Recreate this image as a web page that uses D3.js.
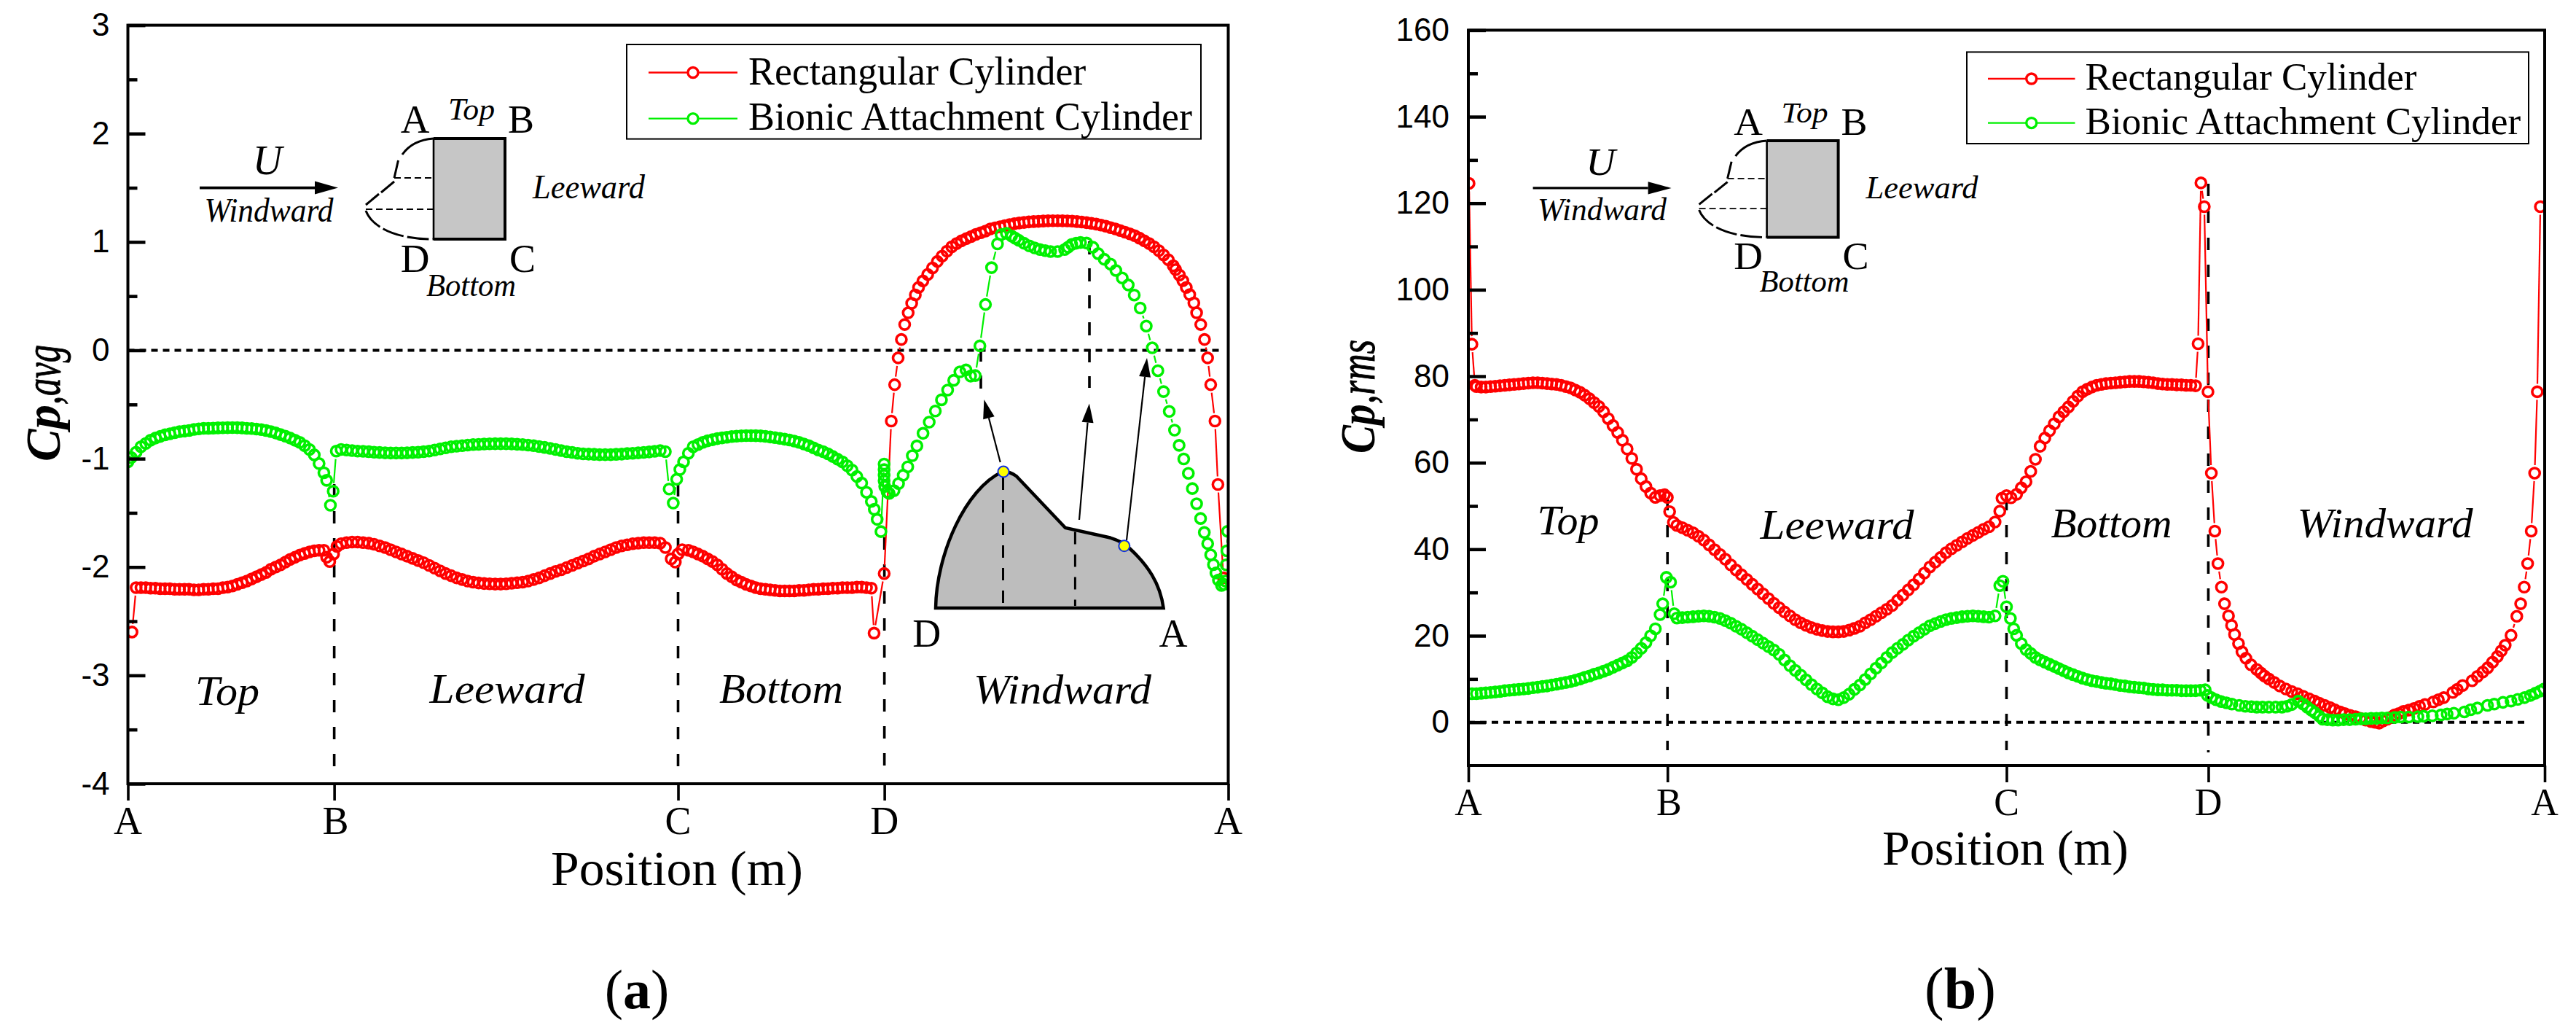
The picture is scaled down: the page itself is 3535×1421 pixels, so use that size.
<!DOCTYPE html>
<html><head><meta charset="utf-8">
<script src="https://cdnjs.cloudflare.com/ajax/libs/d3/7.8.5/d3.min.js"></script>
<style>html,body{margin:0;background:#fff}svg{display:block}text{fill:#000}</style>
</head><body>
<script>
// ---- shared sample positions along the perimeter (m)
const posTop=[.012,.019,.026,.033,.04,.047,.054,.061,.068,.075,
.082,.089,.096,.103,.11,.117,.124,.131,.138,.145,
.152,.159,.166,.173,.18,.187,.194,.201,.208,.215,
.222,.229,.236,.243,.25,.257,.264,.271,.278,.285];
const posLee=[.31,.318,.326,.334,.342,.35,.358,.366,.374,.382,
.39,.398,.406,.414,.422,.43,.438,.446,.454,.462,
.47,.478,.486,.494,.502,.51,.518,.526,.534,.542,
.55,.558,.566,.574,.582,.59,.598,.606,.614,.622,
.63,.638,.646,.654,.662,.67,.678,.686,.694,.702,
.71,.718,.726,.734,.742,.75,.758,.766,.774];
const posBot=[.815,.822,.829,.836,.843,.85,.857,.864,.871,.878,
.885,.892,.899,.906,.913,.92,.927,.934,.941,.948,
.955,.962,.969,.976,.983,.99,.997,1.004,1.011,1.018,
1.025,1.032,1.039,1.046,1.053,1.06,1.067,1.074,1.081];

// ---- (a) Cp,avg  Rectangular Cylinder
const rectAvgX=[.006,...posTop,.289,.2935,.299,.304,...posLee,.7816,.79,.796,.8,.806,...posBot,
1.085,1.0997,1.11,1.1149,1.12,1.1247,1.1295,1.1346,1.1397,1.145,1.1497,
1.156,1.163,1.17,1.177,1.184,1.191,1.198,1.205,1.212,1.219,
1.226,1.233,1.24,1.247,1.254,1.261,1.268,1.275,1.282,1.289,
1.296,1.303,1.31,1.317,1.324,1.331,1.338,1.345,1.352,1.359,
1.366,1.373,1.38,1.387,1.394,1.401,1.408,1.415,1.422,1.429,
1.436,1.443,1.45,1.457,1.464,1.471,1.478,1.485,1.492,1.499,
1.506,1.513,1.52,1.5235,1.529,1.534,1.539,1.544,1.55,1.554,
1.56,1.5655,1.57,1.5745,1.5807,1.585,1.593];
const rectAvgY=[-2.6,
-2.19,-2.19,-2.19,-2.195,-2.195,-2.2,-2.2,-2.2,-2.205,-2.205,
-2.205,-2.205,-2.21,-2.21,-2.205,-2.205,-2.2,-2.2,-2.19,-2.185,
-2.175,-2.16,-2.145,-2.13,-2.11,-2.09,-2.07,-2.05,-2.02,-2,
-1.98,-1.955,-1.93,-1.91,-1.89,-1.875,-1.86,-1.85,-1.845,-1.845,
-1.91,-1.95,-1.88,-1.81,
-1.785,-1.775,-1.77,-1.77,-1.775,-1.78,-1.79,-1.805,-1.82,-1.84,
-1.86,-1.88,-1.9,-1.92,-1.94,-1.96,-1.985,-2.01,-2.035,-2.06,
-2.08,-2.1,-2.115,-2.13,-2.14,-2.147,-2.152,-2.155,-2.157,-2.157,
-2.155,-2.15,-2.145,-2.14,-2.13,-2.115,-2.1,-2.08,-2.06,-2.04,
-2.025,-2.005,-1.985,-1.965,-1.945,-1.925,-1.9,-1.88,-1.86,-1.84,
-1.82,-1.805,-1.795,-1.785,-1.78,-1.775,-1.775,-1.775,-1.78,
-1.82,-1.925,-1.955,-1.88,-1.84,
-1.845,-1.86,-1.88,-1.9,-1.925,-1.95,-1.98,-2.02,-2.06,-2.09,
-2.12,-2.14,-2.16,-2.175,-2.19,-2.2,-2.205,-2.21,-2.215,-2.22,
-2.22,-2.22,-2.22,-2.215,-2.215,-2.21,-2.205,-2.205,-2.2,-2.2,
-2.195,-2.195,-2.19,-2.19,-2.19,-2.185,-2.185,-2.19,-2.195,
-2.61,-2.06,-.653,-.317,-.07,.1,.238,.346,.434,.511,.58,
.64,.7,.76,.82,.87,.915,.955,.985,1.01,1.03,
1.05,1.07,1.085,1.1,1.12,1.13,1.14,1.15,1.16,1.168,
1.175,1.18,1.185,1.188,1.19,1.193,1.195,1.196,1.196,1.195,
1.194,1.192,1.188,1.184,1.178,1.172,1.165,1.155,1.145,1.132,
1.12,1.105,1.09,1.075,1.058,1.035,1.01,.985,.955,.92,
.88,.835,.78,.745,.695,.642,.58,.514,.437,.346,
.238,.1,-.07,-.317,-.653,-1.238,-2.1];

// ---- (a) Cp,avg  Bionic Attachment Cylinder
const bionAvgX=[0,.005,...posTop,.289,.2945,.2985,.303,...posLee,.7815,.787,.793,.798,.8026,.808,...posBot,
1.0853,1.0895,1.095,1.0996,1.0996,1.0996,1.0996,1.1005,1.104,1.107,
1.114,1.1206,1.1273,1.134,1.1406,1.1473,1.1562,1.1652,1.1741,1.183,
1.192,1.2008,1.2098,1.2187,1.2254,1.2321,1.2389,1.247,1.2558,1.2645,
1.2697,1.2774,1.285,1.2902,1.2954,1.303,1.3108,1.3185,1.3262,1.3339,
1.3416,1.3519,1.3621,1.3672,1.3724,1.3788,1.3852,1.394,1.4032,1.4109,
1.4197,1.4289,1.4366,1.4459,1.4546,1.4633,1.472,1.4808,1.4895,1.4977,
1.5059,1.5142,1.5219,1.5286,1.5353,1.542,1.5478,1.554,1.5598,1.5652,
1.5701,1.5745,1.5785,1.5821,1.5857,1.5902,1.594,1.596,1.597,1.598,1.599];
const bionAvgY=[-1.03,-.99,
-.94,-.89,-.86,-.83,-.81,-.795,-.78,-.77,-.76,-.75,
-.745,-.74,-.73,-.725,-.72,-.72,-.718,-.716,-.715,-.714,
-.713,-.714,-.716,-.72,-.722,-.727,-.732,-.74,-.75,-.763,
-.778,-.792,-.81,-.83,-.85,-.88,-.915,-.965,-1.045,-1.13,
-1.2,-1.43,-1.3,-.93,
-.915,-.92,-.925,-.93,-.932,-.935,-.94,-.943,-.946,-.948,
-.948,-.948,-.946,-.943,-.94,-.935,-.93,-.92,-.91,-.9,
-.89,-.885,-.88,-.875,-.87,-.868,-.865,-.863,-.862,-.862,
-.862,-.864,-.867,-.87,-.875,-.88,-.888,-.896,-.905,-.915,
-.925,-.935,-.942,-.95,-.955,-.958,-.96,-.963,-.963,-.963,
-.96,-.958,-.953,-.95,-.946,-.942,-.938,-.932,-.925,
-.935,-1.28,-1.41,-1.19,-1.1,-1.03,
-.95,-.89,-.87,-.85,-.835,-.825,-.815,-.808,-.802,-.796,
-.792,-.789,-.787,-.787,-.788,-.79,-.794,-.8,-.806,-.813,
-.82,-.828,-.838,-.85,-.865,-.88,-.9,-.92,-.935,-.955,
-.98,-1.005,-1.03,-1.065,-1.105,-1.165,-1.225,-1.31,-1.395,
-1.467,-1.56,-1.673,-1.05,-1.101,-1.153,-1.204,-1.256,-1.307,-1.32,
-1.295,-1.23,-1.153,-1.075,-.972,-.882,-.766,-.663,-.56,-.457,
-.367,-.277,-.199,-.181,-.238,-.233,.041,.423,.763,.982,
1.067,1.08,1.054,1.035,1.015,.988,.964,.945,.93,.92,
.912,.912,.93,.952,.977,.988,.995,.99,.951,.892,
.84,.796,.737,.668,.603,.51,.39,.224,.023,-.188,
-.381,-.564,-.737,-.877,-1.003,-1.135,-1.276,-1.416,-1.552,-1.681,
-1.784,-1.887,-1.978,-2.055,-2.12,-2.17,-2.16,-2.13,-1.98,-1.85,-1.67];

// ---- (b) Cp,rms  Rectangular Cylinder
const rectRmsX=[.001,.0053,.0097,...posTop,.2915,.2958,.2992,.3048,...posLee,.783,.79,.7933,.8,.8067,...posBot,
1.0848,1.089,1.094,1.0995,1.1045,1.1097,1.1143,1.1195,1.1241,1.13,
1.1345,1.139,1.1449,1.15,1.1559,1.1633,1.172,1.178,1.1835,1.19,
1.198,1.206,1.2153,1.224,1.2326,1.241,1.25,1.258,1.265,1.273,
1.281,1.288,1.296,1.303,1.311,1.319,1.326,1.334,1.342,1.348,
1.354,1.36,1.366,1.372,1.377,1.383,1.39,1.398,1.4057,1.414,
1.422,1.4345,1.442,1.45,1.4634,1.47,1.478,1.4922,1.5,1.508,
1.5153,1.5225,1.5297,1.5355,1.5413,1.55,1.5586,1.5643,1.5696,1.5747,
1.58,1.5851,1.589,1.5936];
const rectRmsY=[124.6,87.4,77.9,
77.6,77.5,77.5,77.6,77.7,77.8,77.9,78,78.1,78.2,
78.3,78.4,78.5,78.5,78.4,78.3,78.2,78.1,77.9,77.6,
77.3,76.8,76.3,75.6,74.8,73.9,73,71.8,70.2,68.6,
67,65.2,63.2,61,58.5,56.3,54.5,53,52,52.4,
52.6,52,48.7,46.2,
45.5,45,44.4,43.8,43,42.1,41,39.9,38.8,37.7,
36.4,35.2,34.1,33,31.9,30.8,29.7,28.6,27.5,26.5,
25.5,24.6,23.7,23,22.4,21.9,21.5,21.2,21,20.9,
20.9,21,21.3,21.7,22.2,23,23.7,24.5,25.3,26.1,
27,28.2,29.4,30.6,31.8,33.1,34.5,35.9,37,38.1,
39.2,40.1,40.9,41.7,42.5,43.2,43.9,44.6,45.2,
46.3,48.8,51.8,52.4,51.9,
52.7,54.2,55.6,58,60.8,63.8,65.7,67.4,69,70.6,
71.8,72.9,74.2,75.4,76.4,77,77.5,77.9,78.1,78.3,
78.4,78.5,78.6,78.7,78.8,78.8,78.8,78.7,78.6,78.5,
78.3,78.2,78.1,78.1,78,78,77.9,77.9,77.8,
87.5,124.7,119.2,76.4,57.6,44.2,36.7,31.25,27.4,24.6,
22.4,20.3,18.2,16.3,14.8,13.3,12.2,11.4,10.7,10,
9.2,8.4,7.7,7.1,6.6,6,5.4,4.9,4.4,3.9,
3.4,2.9,2.4,2,1.6,1.3,.9,.5,.15,0,
-.2,.3,.7,1.2,1.7,2,2.5,2.8,3.2,3.7,
4.1,4.7,5.2,5.7,6.9,7.6,8.5,9.6,10.6,11.6,
12.6,13.9,15.2,16.5,17.8,20.1,24.5,27.4,31.25,36.7,
44.2,57.6,76.4,119.2];

// ---- (b) Cp,rms  Bionic Attachment Cylinder
const bionRmsX=[.0055,...posTop,.2889,.2944,.3006,.306,...posLee,.783,.79,.7947,.8,.8058,.8107,...posBot,
1.088,1.0953,1.0987,1.1045,1.1114,1.119,1.127,1.135,1.146,1.155,
1.164,1.172,1.1806,1.19,1.2,1.2095,1.217,1.224,1.2337,1.241,
1.247,1.253,1.2585,1.265,1.27,1.277,1.285,1.293,1.301,1.31,
1.319,1.327,1.334,1.342,1.35,1.358,1.366,1.377,1.386,1.398,
1.4115,1.42,1.433,1.446,1.455,1.465,1.4807,1.49,1.5,1.515,
1.525,1.538,1.55,1.56,1.57,1.5788,1.586,1.593,1.599];
const bionRmsY=[6.6,
6.6,6.7,6.8,6.9,7,7.1,7.3,7.4,7.5,7.6,
7.7,7.8,8,8.1,8.3,8.4,8.6,8.8,9,9.2,
9.4,9.7,10,10.4,10.7,11.1,11.4,11.8,12.2,12.7,
13.2,13.7,14.2,15,16,17.1,18.4,20,21.6,24.9,
27.4,33.5,32.4,25.1,
24.1,24.2,24.3,24.4,24.5,24.6,24.5,24.3,24,23.5,
22.9,22.2,21.5,20.7,19.9,19.1,18.3,17.5,16.7,15.7,
14.4,13.1,12,10.9,9.8,8.7,7.7,6.8,5.9,5.4,
5.2,5.7,6.5,7.6,8.6,9.9,11.2,12.5,13.7,15,
16.1,17.1,18,19,19.9,20.7,21.5,22.3,22.8,23.3,
23.7,24,24.2,24.4,24.5,24.6,24.5,24.4,24.3,
24.6,31.6,32.6,26.7,24,21.6,
20.1,18.2,16.8,15.9,15,14.4,13.9,13.4,12.9,12.4,
11.9,11.4,11,10.6,10.2,9.9,9.6,9.4,9.2,9,
8.9,8.7,8.5,8.4,8.2,8.1,8,7.9,7.7,7.6,
7.5,7.5,7.4,7.4,7.4,7.3,7.3,7.3,7.3,
7.4,7.5,6.2,5.7,5.2,4.8,4.5,4.2,3.9,3.7,
3.6,3.5,3.5,3.5,3.5,3.5,3.7,4.1,4.9,4.2,
3.5,2.8,2.2,1.4,.7,.6,.5,.5,.6,.6,
.7,.8,.8,.9,.9,1,1,1.1,1.2,1.2,
1.3,1.4,1.5,1.7,1.9,2.1,2.4,2.9,3.3,3.9,
4.2,4.6,4.9,5.3,5.7,6.2,6.7,7.2,7.7];

const seriesNames=["Rectangular Cylinder","Bionic Attachment Cylinder"];
const cornerLabels=["A","B","C","D","A"];
const cornersA=[0,.3,.8,1.1,1.6];
const cornersB=[0,.296,.8,1.1,1.6];
const ticksAvgMajor=[-4,-3,-2,-1,0,1,2,3];
const ticksAvgMinor=[-3.5,-2.5,-1.5,-.5,.5,1.5,2.5];
const ticksRmsMajor=[0,20,40,60,80,100,120,140,160];
const ticksRmsMinor=[10,30,50,70,90,110,130,150];

const SERIF="'Liberation Serif','Times New Roman',serif", SANS="'Liberation Sans',Arial,sans-serif";
const RED="#ff0000", GREEN="#00f000";
const svg=d3.select("body").append("svg").attr("width",3535).attr("height",1421);
svg.append("rect").attr("width",3535).attr("height",1421).attr("fill","#fff");

function txt(g,s,x,y,o={}){
  const t=g.append("text").attr("x",x).attr("y",y).text(s)
    .attr("font-family",o.family||SERIF).attr("font-size",o.size||54)
    .attr("text-anchor",o.anchor||"middle");
  if(o.italic)t.attr("font-style","italic");
  if(o.bold)t.attr("font-weight","bold");
  if(o.len)t.attr("textLength",o.len).attr("lengthAdjust","spacingAndGlyphs");
  if(o.rot)t.attr("transform",`rotate(-90 ${x} ${y})`);
  return t;
}
function ln(g,x1,y1,x2,y2,w,dash){
  const l=g.append("line").attr("x1",x1).attr("y1",y1).attr("x2",x2).attr("y2",y2)
    .attr("stroke","#000").attr("stroke-width",w);
  if(dash)l.attr("stroke-dasharray",dash);
  return l;
}
function arrow(g,x1,y1,x2,y2,w,hl,hw){
  const a=Math.atan2(y2-y1,x2-x1),bx=x2-hl*Math.cos(a),by=y2-hl*Math.sin(a);
  ln(g,x1,y1,bx,by,w);
  const nx=-Math.sin(a)*hw,ny=Math.cos(a)*hw;
  g.append("path").attr("d",`M${x2},${y2}L${bx+nx},${by+ny}L${bx-nx},${by-ny}Z`).attr("fill","#000");
}
function drawSeries(g,x,y,xs,ys,color){
  const pts=d3.zip(xs,ys), R=7;
  const segs=d3.pairs(pts).map(([a,b])=>{
    const x1=x(a[0]),y1=y(a[1]),x2=x(b[0]),y2=y(b[1]),L=Math.hypot(x2-x1,y2-y1),o=R+4;
    return L>2*o+3?{x1:x1+(x2-x1)*o/L,y1:y1+(y2-y1)*o/L,x2:x2-(x2-x1)*o/L,y2:y2-(y2-y1)*o/L}:null;
  }).filter(Boolean);
  g.selectAll(null).data(segs).join("line")
    .attr("x1",d=>d.x1).attr("y1",d=>d.y1).attr("x2",d=>d.x2).attr("y2",d=>d.y2)
    .attr("stroke",color).attr("stroke-width",2.2);
  g.selectAll(null).data(pts).join("circle")
    .attr("cx",d=>x(d[0])).attr("cy",d=>y(d[1])).attr("r",R)
    .attr("fill","none").attr("stroke",color).attr("stroke-width",3.6);
}
function legend(g,o){
  g.append("rect").attr("x",o.l).attr("y",o.t).attr("width",o.r-o.l).attr("height",o.b-o.t)
    .attr("fill","#fff").attr("stroke","#000").attr("stroke-width",2);
  seriesNames.forEach((n,i)=>{
    const c=i?GREEN:RED;
    g.append("line").attr("x1",o.x1).attr("x2",o.x2).attr("y1",o.ly[i]).attr("y2",o.ly[i]).attr("stroke",c).attr("stroke-width",2.4);
    g.append("circle").attr("cx",(o.x1+o.x2)/2).attr("cy",o.ly[i]).attr("r",7).attr("fill","#fff").attr("stroke",c).attr("stroke-width",3.4);
    txt(g,n,o.tx,o.ty[i],{size:o.size,anchor:"start"});
  });
}
function schematic(g){
  g.append("rect").attr("x",595).attr("y",190).attr("width",98).attr("height",138).attr("fill","#c6c6c6");
  g.append("path").attr("d","M595,190H693V328H595").attr("fill","none").attr("stroke","#000").attr("stroke-width",4);
  ln(g,595,190,595,328,2.6);
  const curve=(d,dash,w)=>{const p=g.append("path").attr("d",d).attr("fill","none").attr("stroke","#000").attr("stroke-width",w);if(dash)p.attr("stroke-dasharray",dash);};
  curve("M595,190Q566,192 552,212",null,3);
  curve("M546.5,220L541,244",null,3);
  curve("M541,249L523,264",null,3);
  curve("M520,266L502,281",null,3);
  curve("M541,244H595","9 5",2);
  curve("M502,287H595","9 5",2);
  curve("M502,289C510,310 540,328 595,328","30 5",3);
  arrow(g,274,257.6,464,257.6,3.6,32,9);
  txt(g,"U",367,239,{italic:true,size:56});
  txt(g,"Windward",369,304,{italic:true,size:46,len:177});
  txt(g,"A",569.5,182,{size:55}); txt(g,"B",715,182,{size:54});
  txt(g,"D",569.5,373,{size:55}); txt(g,"C",717,373,{size:54});
  txt(g,"Top",647,164,{italic:true,size:42,len:64});
  txt(g,"Leeward",808,272,{italic:true,size:46,len:154});
  txt(g,"Bottom",646.5,406,{italic:true,size:44,len:123});
}
function panel(o){
  const g=svg.append("g");
  const x=d3.scaleLinear().domain([0,1.6]).range(o.xr);
  const y=d3.scaleLinear().domain(o.yd).range(o.yr);
  const id="clip"+o.tag;
  svg.append("defs").append("clipPath").attr("id",id).append("rect")
    .attr("x",o.xr[0]).attr("y",o.yr[1]).attr("width",o.xr[1]-o.xr[0]).attr("height",o.yr[0]-o.yr[1]);
  // guides
  ln(g,o.xr[0],y(0),o.zeroEnd,y(0),4,"9 7");
  o.guides.forEach(([c,y1,y2])=>ln(g,x(c),y1,x(c),y2,3.6,"17 20"));
  o.extras&&o.extras(g);
  // series
  const pg=g.append("g").attr("clip-path",`url(#${id})`);
  drawSeries(pg,x,y,o.rx,o.ry,RED);
  drawSeries(pg,x,y,o.gx,o.gy,GREEN);
  // frame + axes
  g.append("rect").attr("x",o.xr[0]).attr("y",o.yr[1]).attr("width",o.xr[1]-o.xr[0]).attr("height",o.yr[0]-o.yr[1])
    .attr("fill","none").attr("stroke","#000").attr("stroke-width",4);
  const styleAxis=a=>{a.select(".domain").remove();a.selectAll("line").attr("stroke","#000").attr("stroke-width",4.5);};
  const ya=g.append("g").attr("transform",`translate(${o.xr[0]},0)`)
    .call(d3.axisLeft(y).tickValues(o.major).tickSizeInner(-24).tickSizeOuter(0).tickPadding(o.ypad).tickFormat(d=>String(d)));
  styleAxis(ya); ya.selectAll("text").attr("font-family",SANS).attr("font-size",44).attr("fill","#000");
  const ym=g.append("g").attr("transform",`translate(${o.xr[0]},0)`)
    .call(d3.axisLeft(y).tickValues(o.minor).tickSizeInner(-13).tickSizeOuter(0).tickFormat(""));
  styleAxis(ym);
  const xa=g.append("g").attr("transform",`translate(0,${o.yr[0]})`)
    .call(d3.axisBottom(x).tickValues(o.corners.map((c,i)=>c)).tickSizeInner(23).tickSizeOuter(0).tickFormat(""));
  styleAxis(xa); xa.selectAll("line").attr("stroke-width",3.6);
  o.corners.forEach((c,i)=>txt(g,cornerLabels[i],x(c)+(i==1?2:0),o.xlabY,{size:o.xlabSize}));
  txt(g,"Position (m)",o.posX,o.posY,{size:68,len:o.posLen});
  // y title
  txt(g,"Cp",o.yt[0],o.yt[1],{size:68,italic:true,bold:true,anchor:"start",len:o.yt[2],rot:true});
  txt(g,o.ytail,o.yt[0],o.yt[1]-o.yt[2],{size:70,italic:true,anchor:"start",len:o.yt[3],rot:true}).attr("stroke","#000").attr("stroke-width",1);
  legend(g,o.leg);
  o.regions.forEach(r=>txt(g,r[0],r[1],r[2],{italic:true,size:56,len:r[3]}));
  const cap=g.append("text").attr("x",o.cap[0]).attr("y",1383).attr("text-anchor","middle").attr("font-family",SERIF).attr("font-size",o.cap[1]);
  cap.append("tspan").text("(");
  cap.append("tspan").attr("font-weight","bold").text(o.tag);
  cap.append("tspan").text(")");
  return g;
}
panel({tag:"a",xr:[175.5,1685.5],yd:[-4,3],yr:[1075,34.6],major:ticksAvgMajor,minor:ticksAvgMinor,ypad:25,
  rx:rectAvgX,ry:rectAvgY,gx:bionAvgX,gy:bionAvgY,corners:cornersA,zeroEnd:1676,
  guides:[[cornersA[1],664,1058],[cornersA[2],664,1058],[cornersA[3],737,1058]],
  xlabY:1144,xlabSize:54,posX:929,posY:1214,posLen:346,yt:[82,633,78,82],ytail:",avg",cap:[874,76],
  leg:{l:860,t:61,r:1648,b:190.6,x1:890,x2:1012,ly:[99.5,162.6],tx:1027,ty:[116,178],size:54},
  regions:[["Top",312,967,88],["Leeward",696,964,213],["Bottom",1072,964,170],["Windward",1458,965,244]],
  extras:g=>{
    schematic(g.append("g"));
    g.append("path").attr("d","M1284,834C1285,760 1325,670 1375.7,647Q1385,646 1394.6,653L1462,724L1521,737Q1540,742 1550,752C1575,775 1592,800 1596.6,834Z")
      .attr("fill","#bdbdbd").attr("stroke","#000").attr("stroke-width",4.5);
    ln(g,1376.5,655,1376.5,831,3,"17 14"); ln(g,1475.4,729.6,1475.4,831,3,"17 14");
    ln(g,1346,478,1346,533,3.6,"18 19"); ln(g,1495,331,1495,532,3.6,"18 19");
    arrow(g,1372.7,634,1350.4,548,2.2,26,8);
    arrow(g,1481,713,1494.8,553.6,2.2,26,8);
    arrow(g,1546,741,1574,491,2.2,26,8);
    [[1377,647],[1542.8,748.8]].forEach(p=>g.append("circle").attr("cx",p[0]).attr("cy",p[1]).attr("r",7.5)
      .attr("fill","#ffff00").attr("stroke","#1030e0").attr("stroke-width",2));
    txt(g,"D",1271.7,886.5,{size:54}); txt(g,"A",1610,886.5,{size:54});
  }});
panel({tag:"b",xr:[2015,3492],yd:[-10,160],yr:[1050,41.4],major:ticksRmsMajor,minor:ticksRmsMinor,ypad:26,
  rx:rectRmsX,ry:rectRmsY,gx:bionRmsX,gy:bionRmsY,corners:cornersB,zeroEnd:3470,
  guides:[[cornersB[1],683,1029],[cornersB[2],683,1029],[cornersB[3],252,1032]],
  xlabY:1118,xlabSize:52,posX:2752,posY:1186,posLen:338,yt:[1886,622,68,88],ytail:",rms",cap:[2690,80],
  leg:{l:2699,t:71.4,r:3470,b:197,x1:2728,x2:2847.5,ly:[108,168.6],tx:2861.6,ty:[123,184],size:53},
  regions:[["Top",2152,733,85],["Leeward",2521,739,211],["Bottom",2897.5,736.6,166],["Windward",3273,736.6,241]],
  extras:g=>{
    schematic(g.append("g").attr("transform","translate(1829.6,193) scale(1,.96) translate(0,-190)"));
  }});
</script>
</body></html>
